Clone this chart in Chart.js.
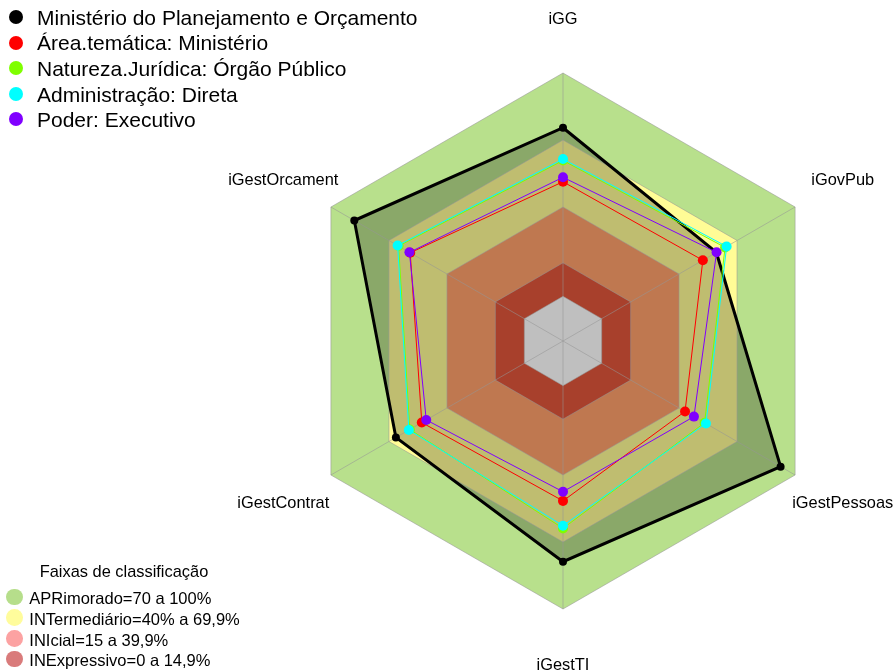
<!DOCTYPE html>
<html>
<head>
<meta charset="utf-8">
<script src="https://cdn.jsdelivr.net/npm/chart.js@4.4.1/dist/chart.umd.min.js"></script>
<style>
html,body{margin:0;padding:0;background:#fff;}
#wrap{position:relative;width:896px;height:672px;font-family:"Liberation Sans",Arial,sans-serif;color:#000;}
#c{position:absolute;left:0;top:0;}
.txt{position:absolute;white-space:nowrap;}
.dot{position:absolute;border-radius:50%;}
</style>
</head>
<body>
<div id="wrap">
<canvas id="c" width="896" height="672"></canvas>
<div id="legTop"></div>
<div id="legBot"></div>
</div>
<script>
// ---- data ----
const categories = ["iGG", "iGovPub", "iGestPessoas", "iGestTI", "iGestContrat", "iGestOrcament"];
const seriesNames = [
  "Ministério do Planejamento e Orçamento",
  "Área.temática: Ministério",
  "Natureza.Jurídica: Órgão Público",
  "Administração: Direta",
  "Poder: Executivo"
];
const ministerio    = [0.755, 0.593, 0.925, 0.788, 0.664, 0.879];
const areaTematica  = [0.513, 0.523, 0.431, 0.516, 0.530, 0.590];
const natureza      = [0.608, 0.638, 0.532, 0.639, 0.592, 0.650];
const administracao = [0.615, 0.646, 0.539, 0.627, 0.597, 0.655];
const poder         = [0.533, 0.594, 0.477, 0.475, 0.507, 0.594];

const bandTitle = "Faixas de classificação";
const bandNames = ["APRimorado=70 a 100%", "INTermediário=40% a 69,9%", "INIcial=15 a 39,9%", "INExpressivo=0 a 14,9%"];
const bandAprimorado   = [1, 1, 1, 1, 1, 1];
const bandIntermediario = [0.7, 0.7, 0.7, 0.7, 0.7, 0.7];
const bandInicial      = [0.4, 0.4, 0.4, 0.4, 0.4, 0.4];
const bandInexpressivo = [0.15, 0.15, 0.15, 0.15, 0.15, 0.15];
const bandZero         = [0, 0, 0, 0, 0, 0];
const tickValues = [-0.2, 0, 0.15, 0.4, 0.7, 1.0];

// ---- styles ----
const seriesColors = ["#000000", "#ff0000", "#7fff00", "#00ffff", "#8000ff"];
const legendBandColors = ["#b6de8b", "#fffc9c", "#fca2a2", "#d97b7b"];

const seriesData = [ministerio, areaTematica, natureza, administracao, poder];
const seriesDatasets = seriesData.map((d, i) => ({
  label: seriesNames[i],
  data: d,
  borderColor: seriesColors[i],
  borderWidth: i === 0 ? 3 : 1,
  pointRadius: i === 0 ? 4 : 5,
  pointBackgroundColor: seriesColors[i],
  pointBorderWidth: 0,
  pointHoverRadius: 0,
  fill: i === 0 ? 'start' : false,
  backgroundColor: i === 0 ? 'rgba(0,0,0,0.25)' : 'transparent',
  order: 5 - i
}));

const bandDefs = [
  {data: bandAprimorado, color: '#b8e08c', order: 20},
  {data: bandIntermediario, color: '#fffc96', order: 19},
  {data: bandInicial, color: '#ffa16b', order: 18},
  {data: bandInexpressivo, color: '#e0563b', order: 17},
  {data: bandZero, color: '#ffffff', order: 16}
];
const bandDatasets = bandDefs.map(b => ({
  label: '',
  data: b.data,
  borderWidth: 0,
  borderColor: 'transparent',
  pointRadius: 0,
  pointHoverRadius: 0,
  fill: 'start',
  backgroundColor: b.color,
  order: b.order
}));

const labelPlugin = {
  id: 'axisLabels',
  afterDraw(chart) {
    const s = chart.scales.r;
    const ctx = chart.ctx;
    ctx.save();
    ctx.font = '16.4px "Liberation Sans", Arial, sans-serif';
    ctx.fillStyle = '#000';
    ctx.textAlign = 'center';
    ctx.textBaseline = 'middle';
    categories.forEach((c, i) => {
      const p = s.getPointPosition(i, s.drawingArea + 55);
      ctx.fillText(c, p.x, p.y + 1);
    });
    ctx.restore();
  }
};

new Chart(document.getElementById('c'), {
  type: 'radar',
  data: {labels: categories, datasets: seriesDatasets.concat(bandDatasets)},
  options: {
    responsive: false,
    animation: false,
    devicePixelRatio: 1,
    layout: {padding: {left: 295, top: 73, right: 65, bottom: 63}},
    elements: {line: {tension: 0}},
    plugins: {
      legend: {display: false},
      tooltip: {enabled: false},
      filler: {drawTime: 'beforeDraw'}
    },
    scales: {
      r: {
        min: -0.2,
        max: 1.0,
        ticks: {display: false},
        pointLabels: {display: false},
        grid: {color: 'rgba(150,150,150,0.55)', lineWidth: 1},
        angleLines: {color: 'rgba(150,150,150,0.55)', lineWidth: 1},
        afterBuildTicks: (axis) => { axis.ticks = tickValues.map(v => ({value: v})); }
      }
    }
  },
  plugins: [labelPlugin]
});

// ---- legends (HTML text) ----
function addDot(parent, cx, cy, r, color) {
  const d = document.createElement('div');
  d.className = 'dot';
  d.style.left = (cx - r) + 'px';
  d.style.top = (cy - r) + 'px';
  d.style.width = (2 * r) + 'px';
  d.style.height = (2 * r) + 'px';
  d.style.background = color;
  parent.appendChild(d);
}
function addText(parent, x, top, size, text, center) {
  const t = document.createElement('div');
  t.className = 'txt';
  t.style.fontSize = size + 'px';
  t.style.lineHeight = size + 'px';
  t.style.top = top + 'px';
  if (center) { t.style.left = (x - 150) + 'px'; t.style.width = '300px'; t.style.textAlign = 'center'; }
  else t.style.left = x + 'px';
  t.textContent = text;
  parent.appendChild(t);
}
const legTop = document.getElementById('legTop');
seriesNames.forEach((n, i) => {
  const yc = 17 + 25.6 * i;
  addDot(legTop, 16.3, yc, 7, seriesColors[i]);
  addText(legTop, 37, yc - 10.3, 21, n, false);
});
const legBot = document.getElementById('legBot');
addText(legBot, 124, 571.3 - 8, 16.4, bandTitle, true);
bandNames.forEach((n, i) => {
  const yc = 598.3 + 20.7 * i;
  addDot(legBot, 14.3, yc - 1.3, 8.3, legendBandColors[i]);
  addText(legBot, 29.3, yc - 8, 16.5, n, false);
});
</script>
</body>
</html>
